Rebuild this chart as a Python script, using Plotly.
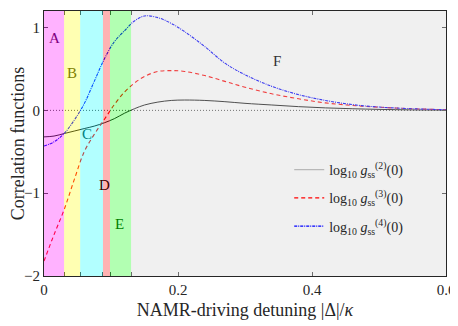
import plotly.graph_objects as go

# detuning |Delta|/kappa
x = [0, 0.015, 0.03, 0.045, 0.06, 0.075, 0.09, 0.105, 0.12, 0.135, 0.15, 0.17, 0.19,
     0.21, 0.24, 0.27, 0.30, 0.34, 0.38, 0.42, 0.46, 0.50, 0.55, 0.60]
# log10 g2(0), g3(0), g4(0)
g2 = [-0.32, -0.31, -0.28, -0.25, -0.22, -0.19, -0.15, -0.10, -0.035, 0.02, 0.065, 0.10, 0.12,
      0.125, 0.12, 0.105, 0.085, 0.065, 0.045, 0.03, 0.02, 0.012, 0.006, 0.003]
g3 = [-1.82, -1.5, -1.2, -0.84, -0.5, -0.29, -0.11, 0.07, 0.22, 0.33, 0.41, 0.47, 0.48,
      0.47, 0.42, 0.35, 0.28, 0.2, 0.14, 0.09, 0.06, 0.038, 0.02, 0.008]
g4 = [-0.43, -0.38, -0.28, -0.12, 0.08, 0.35, 0.62, 0.83, 0.96, 1.08, 1.14, 1.12, 1.05,
      0.95, 0.77, 0.57, 0.43, 0.29, 0.19, 0.12, 0.07, 0.04, 0.02, 0.008]

# regions A..F
region_names = ['A', 'B', 'C', 'D', 'E', 'F']
region_edges = [0, 0.03, 0.054, 0.088, 0.0985, 0.13, 0.6]
region_colors = ['rgba(255,0,255,0.3)', 'rgba(255,255,0,0.3)', 'rgba(0,255,255,0.3)',
                 'rgba(255,0,0,0.3)', 'rgba(0,255,0,0.3)', 'rgba(204,204,204,0.3)']
label_x = [0.016, 0.042, 0.064, 0.091, 0.113, 0.348]
label_y = [0.87, 0.45, -0.28, -0.9, -1.37, 0.6]
label_colors = ['#800080', '#808000', '#008080', '#400000', '#008000', '#333333']

FONT = 'Liberation Serif'

fig = go.Figure()
fig.add_trace(go.Scatter(x=[0, 0.6], y=[0, 0], mode='lines', showlegend=False,
                         line=dict(color='black', width=0.7, dash='1px,2px')))
fig.add_trace(go.Scatter(x=x, y=g2, mode='lines', line_shape='spline', showlegend=False,
                         line=dict(color='#000000', width=0.9)))
fig.add_trace(go.Scatter(x=x, y=g3, mode='lines', line_shape='spline', showlegend=False,
                         line=dict(color='red', width=1.1, dash='4px,3px')))
fig.add_trace(go.Scatter(x=x, y=g4, mode='lines', line_shape='spline', showlegend=False,
                         line=dict(color='blue', width=1.1, dash='3px,1px,1px,1px')))
# legend entries
fig.add_trace(go.Scatter(x=[None], y=[None], mode='lines', line=dict(color='#b8b8b8', width=1.2),
                         legendgroup='g2',
                         name='log<sub>10</sub> <i>g</i><sub>ss</sub><sup>(2)</sup>(0)'))
fig.add_trace(go.Scatter(x=[None], y=[None], mode='lines', line=dict(color='red', width=1.1, dash='4px,3px'),
                         legendgroup='g3',
                         name='log<sub>10</sub> <i>g</i><sub>ss</sub><sup>(3)</sup>(0)'))
fig.add_trace(go.Scatter(x=[None], y=[None], mode='lines',
                         line=dict(color='blue', width=1.1, dash='3px,1px,1px,1px'),
                         legendgroup='g4',
                         name='log<sub>10</sub> <i>g</i><sub>ss</sub><sup>(4)</sup>(0)'))

for i in range(len(region_names)):
    fig.add_shape(type='rect', xref='x', yref='paper', x0=region_edges[i], x1=region_edges[i + 1],
                  y0=0, y1=1, fillcolor=region_colors[i], line_width=0, layer='above')
    fig.add_annotation(x=label_x[i], y=label_y[i], text=region_names[i], showarrow=False,
                       font=dict(family=FONT, size=15, color=label_colors[i]))

tickvals = region_edges[:-1] + [0.2, 0.4, 0.6]
ticktext = ['0', '', '', '', '', '', '0.2', '0.4', '0.6']

# page body adds an 8px offset, so the figure is sized to leave room for it
fig.update_layout(
    width=450, height=318,
    margin=dict(l=36, r=12, t=3, b=50),
    plot_bgcolor='white', paper_bgcolor='white',
    font=dict(family=FONT, size=14, color='#262626'),
    legend=dict(x=0.61, y=0.46, xanchor='left', yanchor='top', bgcolor='rgba(0,0,0,0)',
                font=dict(size=14, color='#262626'), tracegroupgap=7),
    xaxis=dict(range=[0, 0.6], tickvals=tickvals, ticktext=ticktext, ticks='inside', ticklen=4,
               showline=True, linecolor='#262626', linewidth=1, mirror='ticks', showgrid=False,
               zeroline=False, tickfont=dict(size=15), automargin=False,
               title=dict(text='NAMR-driving detuning |Δ|/<i>κ</i>', standoff=6, font=dict(size=18))),
    yaxis=dict(range=[-2, 1.2], tickvals=[-2, -1, 0, 1], ticks='inside', ticklen=4,
               showline=True, linecolor='#262626', linewidth=1, mirror='ticks', showgrid=False,
               zeroline=False, tickfont=dict(size=15), automargin=False,
               title=dict(text='Correlation functions', standoff=2, font=dict(size=18))),
)

fig.write_html("out.html")
